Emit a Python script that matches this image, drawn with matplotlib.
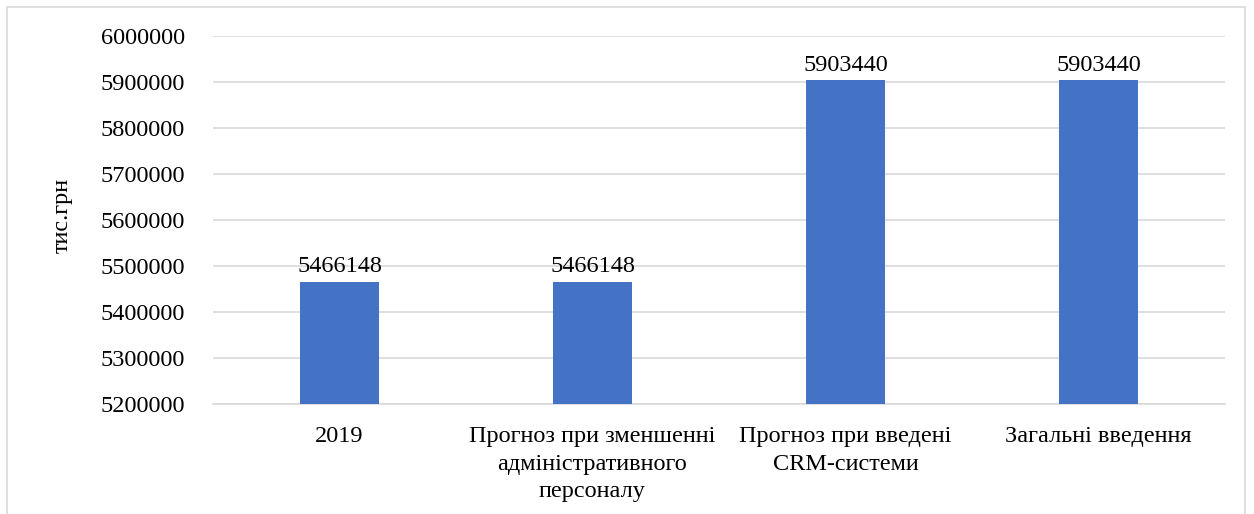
import numpy as np
import matplotlib.pyplot as plt
from matplotlib.patches import Rectangle

categories = ["2019",
              "Прогноз при зменшенні\nадміністративного\nперсоналу",
              "Прогноз при введені\nCRM-системи",
              "Загальні введення"]
values = [5466148, 5466148, 5903440, 5903440]
yticks = [5200000, 5300000, 5400000, 5500000, 5600000,
          5700000, 5800000, 5900000, 6000000]

plt.rcParams['font.family'] = ['Liberation Serif', 'DejaVu Serif']

fig = plt.figure(figsize=(12.54, 5.14), dpi=100)

# light frame around the chart area
fig.patches.append(Rectangle((7 / 1254, -0.1), 1238 / 1254, 1.1 - 7 / 514,
                             transform=fig.transFigure, fill=False,
                             edgecolor='#d9d9d9', linewidth=1.2))

ax = fig.add_axes([213 / 1254, 1 - 404 / 514, 1012 / 1254, 368 / 514])

x = np.arange(len(categories))
bars = ax.bar(x, values, width=0.31, color='#4472c4', zorder=3)
for b, v in zip(bars, values):
    ax.text(b.get_x() + b.get_width() / 2, v + 10000, str(v),
            ha='center', va='bottom', fontsize=17.5)

ax.set_ylim(5200000, 6000000)
ax.set_xlim(-0.5, len(categories) - 0.5)
ax.set_yticks(yticks)
ax.set_yticklabels([str(t) for t in yticks], fontsize=17.5)
ax.set_xticks(x)
ax.set_xticklabels(categories, fontsize=17.5, linespacing=1.4)
ax.tick_params(length=0)
ax.tick_params(axis='y', pad=20)
ax.tick_params(axis='x', pad=16)
ax.grid(axis='y', color='#d9d9d9', linewidth=1.2, zorder=0)
for s in ['top', 'right', 'left']:
    ax.spines[s].set_visible(False)
ax.spines['bottom'].set_color('#d9d9d9')
ax.spines['bottom'].set_linewidth(1.2)

fig.text(62 / 1254, 1 - 215 / 514, "тис.грн", rotation=90, fontsize=17.5,
         ha='center', va='center')

fig.savefig('out.png', dpi=100)
